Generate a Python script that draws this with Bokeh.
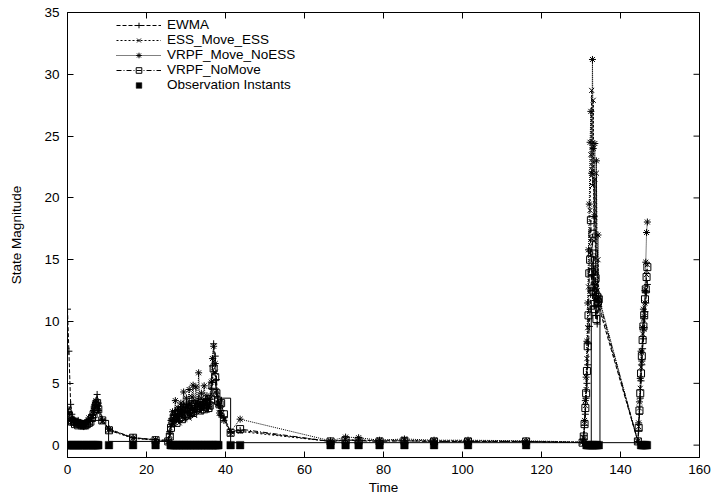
import math
from bokeh.plotting import figure
from bokeh.models import Range1d, FixedTicker, Legend, LegendItem
from bokeh.embed import file_html
from bokeh.resources import INLINE

FONT = "Liberation Sans"
FS = "13.5px"

# ---------------- data ----------------
x_min, x_max = 0, 160
y_min, y_max = -1, 35
x_ticks = [0, 20, 40, 60, 80, 100, 120, 140, 160]
y_ticks = [0, 5, 10, 15, 20, 25, 30, 35]

t_est = [0.0, 0.35, 0.8, 1.1, 1.6, 1.9, 2.4, 2.7, 3.3, 3.6, 4.1, 4.5, 4.9, 5.4, 5.8,
         6.2, 6.6, 6.9, 7.2, 7.5, 7.8, 8.8, 10.5, 16.6, 22.3,
         25.5, 25.9, 26.2, 26.6, 26.9, 27.3, 27.6, 28.0, 28.3, 28.7, 29.0, 29.4, 29.7,
         30.1, 30.4, 30.8, 31.1, 31.5, 31.8, 32.2, 32.5, 32.9, 33.2, 33.6, 33.9, 34.3,
         34.6, 35.0, 35.3, 35.7, 36.0, 36.4, 36.7, 37.0, 37.4, 37.7, 38.1, 38.5, 38.9, 39.6,
         41.3, 43.7, 66.6, 70.4, 73.7, 79.0, 85.3, 92.8, 101.4, 116.1, 130.4,
         130.7, 130.9, 131.1, 131.3, 131.5, 131.7, 131.9, 132.1, 132.3, 132.5, 132.7,
         132.9, 133.1, 133.3, 133.5, 133.7, 133.9, 134.1, 134.3, 134.5,
         144.4, 144.6, 144.8, 145.0, 145.2, 145.4, 145.6, 145.8, 146.0, 146.2, 146.4,
         146.6, 146.8]

ewma = [11.0, 7.6, 3.3, 2.5, 2.1, 2.0, 1.9, 2.0, 1.8, 1.7, 1.7, 1.8, 1.8, 1.7, 1.9,
        2.2, 2.5, 3.0, 3.5, 4.1, 3.4, 2.1, 1.3, 0.6, 0.45,
        0.4, 0.9, 1.5, 2.0, 2.4, 2.8, 2.2, 2.9, 2.5, 3.1, 2.7, 3.3, 2.6, 3.4, 3.0, 3.5,
        2.8, 3.2, 3.6, 3.0, 3.4, 3.1, 3.8, 3.3, 2.9, 3.5, 3.2, 3.7, 3.3, 3.0, 3.4, 4.6,
        6.4, 8.2, 7.2, 5.3, 3.8, 3.2, 2.8, 2.3,
        1.0, 1.2, 0.3, 0.4, 0.4, 0.35, 0.35, 0.3, 0.3, 0.3, 0.2,
        0.8, 1.6, 2.5, 3.8, 5.0, 6.5, 8.2, 9.6, 11.0, 12.5, 13.8, 12.1, 14.5, 11.2,
        13.0, 10.5, 12.4, 9.8, 11.6, 11.2,
        0.3, 1.2, 2.5, 3.8, 5.2, 6.5, 7.8, 8.6, 9.5, 10.8, 11.5, 12.4, 13.0]

ess_move_ess = [2.8, 2.6, 2.1, 1.9, 2.0, 1.8, 1.9, 1.7, 1.8, 1.6, 1.7, 1.5, 1.8, 1.9, 2.0,
                2.3, 2.6, 3.0, 3.4, 3.1, 2.7, 1.9, 1.2, 0.55, 0.4,
                0.3, 0.8, 1.6, 2.2, 1.7, 2.6, 2.0, 2.4, 1.8, 2.9, 2.3, 3.0, 2.1, 3.2, 2.6,
                2.2, 3.4, 2.5, 3.0, 2.4, 3.6, 2.8, 3.3, 2.7, 3.8, 2.9, 3.1, 3.5, 2.8, 3.3,
                3.0, 3.9, 5.2, 6.8, 5.9, 4.4, 3.4, 2.6, 2.5, 2.1,
                0.9, 1.1, 0.3, 0.45, 0.4, 0.4, 0.4, 0.35, 0.35, 0.3, 0.25,
                0.6, 1.8, 3.2, 4.5, 7.0, 9.5, 12.8, 15.5, 19.0, 23.5, 28.7, 21.0, 27.9,
                16.5, 21.5, 13.0, 22.0, 12.5, 15.0, 11.5,
                0.3, 1.5, 3.0, 4.6, 6.3, 7.5, 9.0, 10.2, 9.4, 11.5, 12.6, 13.8, 14.6]

vrpf_move_noess = [2.9, 2.5, 2.0, 2.1, 1.8, 1.9, 1.7, 1.9, 1.6, 1.8, 1.5, 1.7, 1.9, 2.2, 2.0,
                   2.4, 2.8, 3.3, 3.6, 3.2, 2.8, 2.0, 1.3, 0.6, 0.45,
                   0.3, 1.1, 2.0, 2.7, 1.9, 3.6, 2.3, 3.0, 2.0, 3.4, 2.6, 4.3, 2.2, 3.8, 3.1,
                   4.5, 2.4, 3.9, 4.85, 2.7, 4.7, 3.3, 5.85, 3.0, 4.2, 3.4, 4.8, 3.6, 4.0,
                   3.1, 3.7, 5.1, 7.0, 8.0, 6.6, 4.2, 3.3, 2.6, 2.4, 2.0,
                   1.1, 2.1, 0.35, 0.65, 0.6, 0.4, 0.5, 0.4, 0.4, 0.35, 0.25,
                   0.5, 2.0, 3.6, 5.5, 8.4, 11.5, 15.8, 19.5, 24.5, 27.0, 22.0, 31.2, 24.0,
                   18.5, 24.4, 14.0, 23.0, 11.8, 17.0, 12.0,
                   0.3, 1.8, 3.5, 5.4, 7.6, 6.8, 9.5, 11.0, 10.4, 12.5, 14.8, 17.2, 18.05]

vrpf_nomove = [2.8, 2.4, 2.0, 1.9, 1.9, 1.7, 1.8, 1.6, 1.7, 1.6, 1.6, 1.6, 1.7, 1.8, 1.9,
               2.2, 2.5, 2.9, 3.2, 3.4, 2.9, 2.0, 1.2, 0.6, 0.4,
               0.3, 0.7, 1.4, 1.9, 2.2, 2.5, 1.8, 2.6, 2.2, 2.8, 2.1, 2.9, 2.5, 3.0, 2.4,
               2.9, 2.7, 3.1, 2.6, 3.3, 2.9, 3.0, 3.2, 2.8, 3.4, 3.1, 2.9, 3.3, 3.5, 3.0,
               3.2, 3.7, 4.8, 6.2, 5.5, 4.2, 3.6, 3.3, 3.4, 2.5,
               1.0, 1.3, 0.3, 0.4, 0.35, 0.3, 0.35, 0.3, 0.3, 0.3, 0.2,
               0.7, 1.7, 3.0, 4.2, 6.0, 8.0, 10.5, 13.9, 15.0, 18.2, 14.0, 17.1, 12.5,
               15.5, 11.0, 13.5, 10.2, 12.0, 11.6, 11.8,
               0.3, 1.4, 2.8, 4.2, 5.8, 7.2, 8.5, 9.6, 10.5, 11.8, 12.6, 13.6, 14.4]

obs_t = [0.0, 0.3, 0.6, 0.9, 1.3, 1.6, 1.9, 2.2, 2.5, 2.8, 3.2, 3.5, 3.8, 4.1, 4.4,
         4.8, 5.1, 5.4, 5.7, 6.0, 6.4, 6.7, 7.0, 7.3, 7.6, 7.8, 10.5, 16.6, 22.3,
         26.1, 26.4, 26.8, 27.1, 27.5, 27.8, 28.2, 28.5, 28.9, 29.2, 29.6, 29.9, 30.3,
         30.6, 31.0, 31.3, 31.7, 32.0, 32.4, 32.7, 33.1, 33.4, 33.8, 34.1, 34.5, 34.8,
         35.2, 35.5, 35.9, 36.2, 36.6, 36.9, 37.3, 37.6, 38.0, 38.2, 41.3, 43.7,
         66.6, 70.4, 73.7, 79.0, 85.3, 92.8, 101.4, 116.1,
         131.4, 131.7, 132.0, 132.3, 132.6, 132.9, 133.2, 133.5, 133.8, 134.1, 134.5,
         145.2, 145.5, 145.8, 146.1, 146.4, 146.7]
obs_v = [0.0] * len(obs_t)

# thin solid step line (not in the key)
true_t = [0.0, 10.4, 38.7, 41.3, 132.6, 134.8, 144.5, 147.0]
true_v = [2.0, 0.3, 3.8, 0.2, 11.7, 0.2, 0.2, 0.2]

# ---------------- figure ----------------
p = figure(width=711, height=502, output_backend="svg", toolbar_location=None,
           x_range=Range1d(x_min, x_max), y_range=Range1d(y_min, y_max),
           min_border_left=67, min_border_right=12, min_border_top=12,
           min_border_bottom=45)
p.background_fill_color = "white"
p.border_fill_color = "white"
p.outline_line_color = "black"
p.outline_line_alpha = 1
p.outline_line_width = 1
p.xgrid.visible = False
p.ygrid.visible = False

for ax, ticks in ((p.xaxis[0], x_ticks), (p.yaxis[0], y_ticks)):
    ax.ticker = FixedTicker(ticks=ticks)
    ax.major_tick_in = 6
    ax.major_tick_out = 0
    ax.minor_tick_line_color = None
    ax.axis_line_color = "black"
    ax.major_tick_line_color = "black"
    ax.major_label_text_font = FONT
    ax.major_label_text_font_size = FS
    ax.major_label_text_color = "black"
    ax.axis_label_text_font = FONT
    ax.axis_label_text_font_size = FS
    ax.axis_label_text_font_style = "normal"
    ax.axis_label_text_color = "black"

p.xaxis.axis_label = "Time"
p.yaxis.axis_label = "State Magnitude"
p.xaxis.major_label_standoff = 7
p.xaxis.axis_label_standoff = 3
p.yaxis.major_label_standoff = 8
p.yaxis.axis_label_standoff = 17

# mirrored tick marks on the top and right borders (6 px, pointing inward)
p.ray(x=x_ticks, y=[y_max] * len(x_ticks), length=6, length_units="screen",
      angle=-math.pi / 2, line_color="black", line_width=1)
p.ray(x=[x_max] * len(y_ticks), y=y_ticks, length=6, length_units="screen",
      angle=math.pi, line_color="black", line_width=1)

p.step(true_t, true_v, mode="after", line_color="black", line_width=1)

series = [
    ("EWMA", ewma, "4 2", "cross"),
    ("ESS_Move_ESS", ess_move_ess, "2 2", "x"),
    ("VRPF_Move_NoESS", vrpf_move_noess, "1 1", "asterisk"),
    ("VRPF_NoMove", vrpf_nomove, "5 2 1 2", "square"),
]
items = []
for name, vals, dash, marker in series:
    lr = p.line(t_est, vals, line_color="black", line_width=1, line_dash=dash)
    sr = p.scatter(t_est, vals, marker=marker, size=7, line_color="black",
                   fill_color=None, line_width=1)
    items.append(LegendItem(label=name, renderers=[lr, sr]))

orr = p.scatter(obs_t, obs_v, marker="square", size=7.5, line_color="black",
                fill_color="black", line_width=0.5)
items.append(LegendItem(label="Observation Instants", renderers=[orr]))

legend = Legend(items=items, location=(49, 365), orientation="vertical",
                background_fill_alpha=0, border_line_color=None,
                label_text_font=FONT, label_text_font_size=FS,
                label_text_color="black", glyph_width=45, glyph_height=14,
                label_height=14, label_standoff=6, spacing=0, padding=0, margin=0)
p.add_layout(legend, "center")

open("out.html", "w").write(file_html(p, INLINE))
